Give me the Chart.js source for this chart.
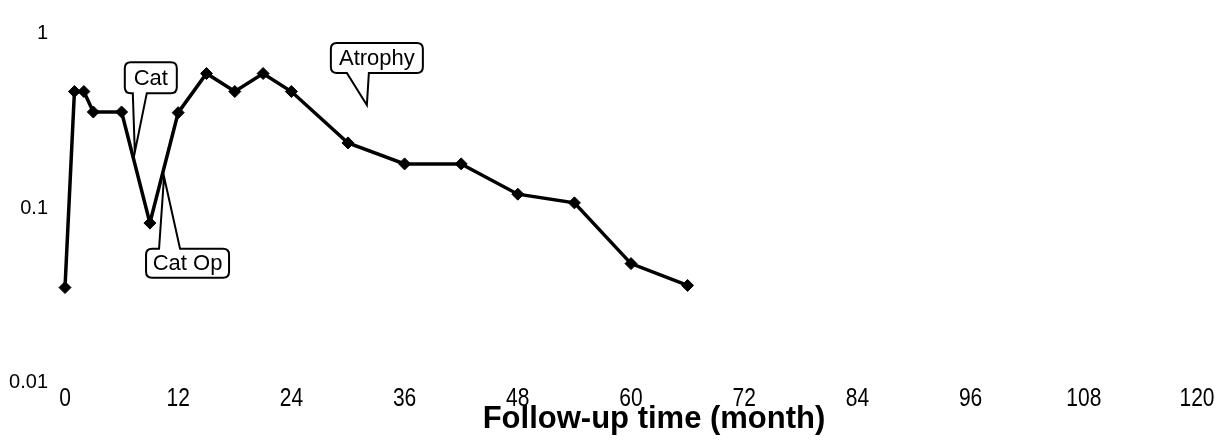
<!DOCTYPE html>
<html>
<head>
<meta charset="utf-8">
<script src="https://cdn.jsdelivr.net/npm/chart.js@4"></script>
<style>
    body { margin: 0; background: #fff; }
    canvas { display: block; }
</style>
</head>
<body>
<canvas id="myChart" width="1220" height="441"></canvas>
<script>
// follow-up months and measured values (log scale)
const months = [0, 1, 2, 3, 6, 9, 12, 15, 18, 21, 24, 30, 36, 42, 48, 54, 60, 66];
const values = [0.035, 0.465, 0.465, 0.355, 0.355, 0.082, 0.352, 0.59, 0.465, 0.59, 0.465, 0.236, 0.179, 0.179, 0.120, 0.107, 0.048, 0.036];
const xTicks = [0, 12, 24, 36, 48, 60, 72, 84, 96, 108, 120];
const yTicks = [0.01, 0.1, 1];
const calloutLabels = ["Cat", "Cat Op", "Atrophy"];
const xTitle = "Follow-up time (month)";

const points = months.map((m, i) => ({ x: m, y: values[i] }));

// speech-bubble shaped labels, tip given in data units, box offset in px
const callouts = [
    { text: calloutLabels[0], tip: [7.4, 0.209], box: [-10, -90, 52, 31], base: [-2, 12], side: "bottom" },
    { text: calloutLabels[1], tip: [10.5, 0.151], box: [-18, 72, 83, 29], base: [-5, 16], side: "top" },
    { text: calloutLabels[2], tip: [32, 0.389], box: [-36, -62, 92, 30], base: [-20, 2], side: "bottom" }
];

const drawBubble = (ctx, tx, ty, c) => {
    const x = tx + c.box[0], y = ty + c.box[1], w = c.box[2], h = c.box[3];
    const r = 6;
    const b1 = tx + c.base[0], b2 = tx + c.base[1];
    ctx.beginPath();
    ctx.moveTo(x + r, y);
    if (c.side === "top") {
        ctx.lineTo(b1, y);
        ctx.lineTo(tx, ty);
        ctx.lineTo(b2, y);
    }
    ctx.lineTo(x + w - r, y);
    ctx.quadraticCurveTo(x + w, y, x + w, y + r);
    ctx.lineTo(x + w, y + h - r);
    ctx.quadraticCurveTo(x + w, y + h, x + w - r, y + h);
    if (c.side === "bottom") {
        ctx.lineTo(b2, y + h);
        ctx.lineTo(tx, ty);
        ctx.lineTo(b1, y + h);
    }
    ctx.lineTo(x + r, y + h);
    ctx.quadraticCurveTo(x, y + h, x, y + h - r);
    ctx.lineTo(x, y + r);
    ctx.quadraticCurveTo(x, y, x + r, y);
    ctx.closePath();
    ctx.fillStyle = "#fff";
    ctx.fill();
    ctx.lineWidth = 2;
    ctx.strokeStyle = "#000";
    ctx.stroke();

    ctx.fillStyle = "#000";
    ctx.font = "22px 'Liberation Sans', Arial, sans-serif";
    ctx.textAlign = "center";
    ctx.textBaseline = "middle";
    ctx.fillText(c.text, x + w / 2, y + h / 2 + 1);
};

const calloutPlugin = {
    id: "callouts",
    afterDatasetsDraw(chart) {
        const ctx = chart.ctx;
        const xs = chart.scales.x, ys = chart.scales.y;
        ctx.save();
        callouts.forEach(c => {
            drawBubble(ctx, xs.getPixelForValue(c.tip[0]), ys.getPixelForValue(c.tip[1]), c);
        });

        // x tick labels in a condensed face (no narrow font installed, so squeeze it)
        ctx.fillStyle = "#000";
        ctx.font = "25px 'Liberation Sans', Arial, sans-serif";
        ctx.textAlign = "center";
        ctx.textBaseline = "alphabetic";
        xTicks.forEach(v => {
            ctx.save();
            ctx.translate(xs.getPixelForValue(v), 406);
            ctx.scale(0.84, 1);
            ctx.fillText(String(v), 0, 0);
            ctx.restore();
        });

        // axis title, sits a bit right of the plot centre
        ctx.font = "bold 31px 'Liberation Sans', Arial, sans-serif";
        ctx.fillText(xTitle, 654, 428);
        ctx.restore();
    }
};

const config = {
    type: 'line',
    data: {
        datasets: [
            {
                data: points,
                borderColor: '#000',
                borderWidth: 3.5,
                pointStyle: 'rectRot',
                pointRadius: 6,
                pointBackgroundColor: '#000',
                pointBorderColor: '#000',
                pointBorderWidth: 1,
                tension: 0,
                clip: false
            }
        ]
    },
    options: {
        responsive: false,
        animation: false,
        layout: {
            padding: { top: 33.5, right: 23, bottom: 0, left: 0 }
        },
        plugins: {
            legend: { display: false },
            tooltip: { enabled: false }
        },
        scales: {
            x: {
                type: 'linear',
                min: 0,
                max: 120,
                grid: { display: false, drawTicks: false },
                border: { display: false },
                afterBuildTicks: scale => { scale.ticks = xTicks.map(v => ({ value: v })); },
                afterFit: scale => { scale.height = 58.5; },
                ticks: { display: false }
            },
            y: {
                type: 'logarithmic',
                min: 0.01,
                max: 1,
                grid: { display: false, drawTicks: false },
                border: { display: false },
                afterBuildTicks: scale => { scale.ticks = yTicks.map(v => ({ value: v })); },
                afterFit: scale => { scale.width = 65; },
                ticks: {
                    color: '#000',
                    padding: 17,
                    autoSkip: false,
                    callback: v => String(v),
                    font: { family: "'Liberation Sans', Arial, sans-serif", size: 20 }
                }
            }
        }
    },
    plugins: [calloutPlugin]
};

new Chart(document.getElementById("myChart"), config);
</script>
</body>
</html>
